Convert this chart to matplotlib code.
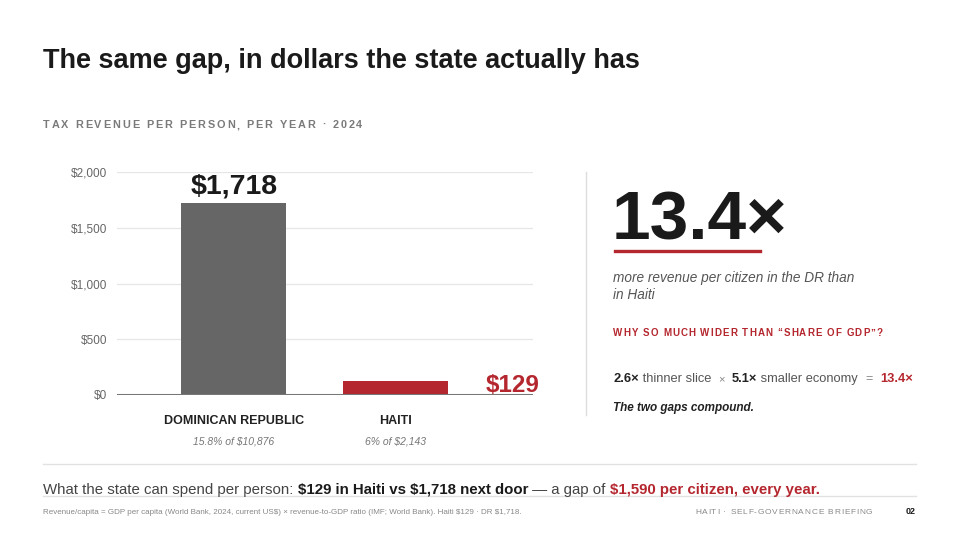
import matplotlib
matplotlib.use('Agg')
import matplotlib.pyplot as plt
import matplotlib.transforms as mtransforms
from matplotlib.lines import Line2D

plt.rcParams['font.family'] = ['Liberation Sans', 'DejaVu Sans']

# data
countries = ['DOMINICAN REPUBLIC', 'HAITI']
revenue = [1718, 129]
value_labels = ['$1,718', '$129']
notes = ['15.8% of $10,876', '6% of $2,143']
yticks = [0, 500, 1000, 1500, 2000]
ytick_labels = ['$0', '$500', '$1,000', '$1,500', '$2,000']

RED = '#b5272f'
GREY_BAR = '#666666'

W, H = 960, 540
fig = plt.figure(figsize=(9.6, 5.4), dpi=100)
fig.patch.set_facecolor('white')
renderer = fig.canvas.get_renderer()


def fx(px):
    return px / W


def fy(py):
    return 1 - py / H


def text_width(s, **props):
    # pipes around so spaces get measured too
    t1 = fig.text(0, 0, '|' + s + '|', parse_math=False, **props)
    t0 = fig.text(0, 0, '||', parse_math=False, **props)
    w = t1.get_window_extent(renderer).width - t0.get_window_extent(renderer).width
    t1.remove()
    t0.remove()
    return w


def run(x, y, parts):
    # several styles on one baseline
    for s, props in parts:
        fig.text(fx(x), fy(y), s, va='baseline', ha='left', parse_math=False, **props)
        x += text_width(s, **props)
    return x


def spaced(x, y, s, track, **props):
    # letter spaced caps
    for c in s:
        fig.text(fx(x), fy(y), c, va='baseline', ha='left', parse_math=False, **props)
        x += text_width(c, **props) + track
    return x


# title + kicker
fig.text(fx(43), fy(68), 'The same gap, in dollars the state actually has',
         fontsize=19.5, fontweight='bold', color='#1a1a1a', va='baseline')
spaced(43, 128, 'TAX REVENUE PER PERSON, PER YEAR · 2024', 1.9,
       fontsize=7.8, fontweight='bold', color='#7a7a7a')

# bar chart
ax = fig.add_axes([fx(117), fy(395), fx(533) - fx(117), fy(172) - fy(395)])
x = [0, 1]
bars = ax.bar(x, revenue, width=0.65, color=[GREY_BAR, RED], zorder=2)
ax.set_xlim(-0.724, 1.851)
ax.set_ylim(0, 2000)
ax.set_yticks(yticks)
ax.set_yticklabels(ytick_labels)
ax.tick_params(axis='y', length=0, pad=7, labelsize=8.5, labelcolor='#666666')
ax.set_xticks([])
ax.grid(axis='y', color='#e6e6e6', lw=0.9, zorder=0)
for sp in ax.spines.values():
    sp.set_visible(False)
ax.axhline(0, color='#777777', lw=2.2, zorder=3)

ax.annotate(value_labels[0], (x[0], revenue[0]), xytext=(0, 7.5), textcoords='offset points',
            ha='center', va='baseline', fontsize=20.5, fontweight='bold', color='#1a1a1a',
            parse_math=False)
ax.annotate(value_labels[1], (x[1] + 0.325, revenue[1]), xytext=(27, -8.5), textcoords='offset points',
            ha='left', va='baseline', fontsize=17.5, fontweight='bold', color=RED,
            parse_math=False)

trans = mtransforms.blended_transform_factory(ax.transData, ax.transAxes)
for xi, name, note in zip(x, countries, notes):
    ax.text(xi, -0.118, name, transform=trans, ha='center', va='center',
            fontsize=9, fontweight='bold', color='#222222')
    ax.text(xi, -0.21, note, transform=trans, ha='center', va='center',
            fontsize=7.5, style='italic', color='#777777', parse_math=False)

# divider
fig.add_artist(Line2D([fx(586), fx(586)], [fy(172), fy(415)], color='#dddddd', lw=1))

# right panel
fig.text(fx(612), fy(240), '13.4×', fontsize=50, fontweight='bold', color='#1a1a1a', va='baseline')
fig.add_artist(Line2D([fx(615), fx(760)], [fy(251), fy(251)], color=RED, lw=2.4))
fig.text(fx(613), fy(282), 'more revenue per citizen in the DR than', fontsize=9.8,
         style='italic', color='#555555', va='baseline')
fig.text(fx(613), fy(299), 'in Haiti', fontsize=9.8, style='italic', color='#555555', va='baseline')
spaced(613, 336, 'WHY SO MUCH WIDER THAN “SHARE OF GDP”?', 1.1,
       fontsize=7, fontweight='bold', color=RED)

b = dict(fontsize=9.3, fontweight='bold', color='#222222')
n = dict(fontsize=9.3, color='#555555')
run(613, 382, [('2.6×', b), (' thinner slice  ', n), ('×', dict(fontsize=8, color='#888888')),
               ('  ', n), ('5.1×', b), (' smaller economy  ', n),
               ('=', dict(fontsize=9, color='#888888')), ('  ', n),
               ('13.4×', dict(fontsize=9.3, fontweight='bold', color=RED))])
fig.text(fx(613), fy(411), 'The two gaps compound.', fontsize=8.5, fontweight='bold',
         style='italic', color='#222222', va='baseline')

# bottom takeaway
fig.add_artist(Line2D([fx(43), fx(916)], [fy(464), fy(464)], color='#e2e2e2', lw=1))
fig.add_artist(Line2D([fx(43), fx(916)], [fy(496), fy(496)], color='#e2e2e2', lw=1))
n2 = dict(fontsize=10.8, color='#444444')
b2 = dict(fontsize=10.8, fontweight='bold', color='#1a1a1a')
r2 = dict(fontsize=10.8, fontweight='bold', color=RED)
run(43, 494, [('What the state can spend per person: ', n2),
              ('$129 in Haiti vs $1,718 next door', b2),
              (' — a gap of ', n2),
              ('$1,590 per citizen, every year.', r2)])

fig.text(fx(43), fy(514), 'Revenue/capita = GDP per capita (World Bank, 2024, current US$) × '
         'revenue-to-GDP ratio (IMF; World Bank). Haiti $129 · DR $1,718.',
         fontsize=5.8, color='#888888', va='baseline', parse_math=False)
spaced(695, 514, 'HAITI · SELF-GOVERNANCE BRIEFING', 0.8, fontsize=6, color='#888888')
fig.text(fx(916), fy(514), '02', fontsize=6.5, fontweight='bold', color='#1a1a1a',
         ha='right', va='baseline')

fig.savefig('out.png', dpi=100)
